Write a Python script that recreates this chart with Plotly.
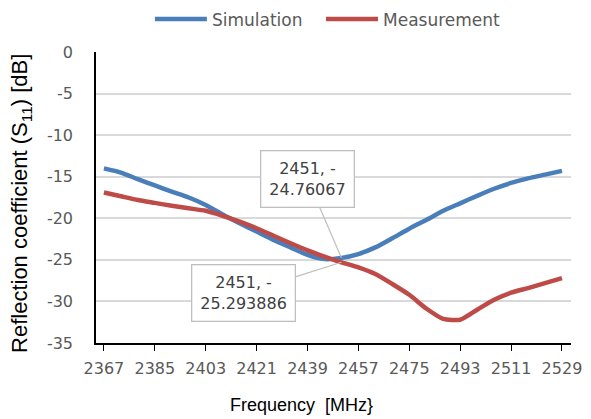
import plotly.graph_objects as go

freq = [2367, 2373, 2379, 2385, 2391, 2397, 2403, 2409, 2415, 2421, 2427, 2433, 2439, 2445,
        2451, 2457, 2463, 2469, 2475, 2481, 2487, 2493, 2499, 2505, 2511, 2517, 2523, 2529]
simulation = [-14.0, -14.5, -15.3, -16.05, -16.8, -17.5, -18.4, -19.55, -20.6, -21.6, -22.6, -23.5,
              -24.4, -24.9, -24.76067, -24.3, -23.5, -22.4, -21.25, -20.2, -19.1, -18.2, -17.3,
              -16.45, -15.75, -15.2, -14.75, -14.3]
measurement = [-16.9, -17.35, -17.8, -18.15, -18.5, -18.8, -19.1, -19.7, -20.4, -21.2, -22.1, -23.0,
               -23.85, -24.6, -25.293886, -25.9, -26.7, -27.9, -29.2, -30.85, -32.1, -32.2, -31.0,
               -29.8, -28.95, -28.4, -27.8, -27.2]
xticks = [2367, 2385, 2403, 2421, 2439, 2457, 2475, 2493, 2511, 2529]
yticks = [0, -5, -10, -15, -20, -25, -30, -35]
mark_freq = 2451
sim_mark = -24.76067
meas_mark = -25.293886

tick_font = dict(family="DejaVu Sans", size=16, color="#595959")
legend_font = dict(family="DejaVu Sans", size=17, color="#595959")

fig = go.Figure()
fig.add_trace(go.Scatter(x=freq, y=simulation, mode="lines", name="Simulation", legend="legend",
                         line=dict(color="#4a7ebb", width=4.5, shape="spline", smoothing=0.6)))
fig.add_trace(go.Scatter(x=freq, y=measurement, mode="lines", name="Measurement", legend="legend2",
                         line=dict(color="#be4b48", width=4.5, shape="spline", smoothing=0.6)))

fig.add_annotation(x=mark_freq, y=sim_mark, text="2451, -<br>24.76067", showarrow=True,
                   arrowhead=0, arrowcolor="#bfbfbf", arrowwidth=1.2, ax=-34, ay=-79,
                   bordercolor="#bfbfbf", borderwidth=1.3, borderpad=8, bgcolor="white",
                   font=dict(family="DejaVu Sans", size=16, color="#404040"))
fig.add_annotation(x=mark_freq, y=meas_mark, text="2451, -<br>25.293886", showarrow=True,
                   arrowhead=0, arrowcolor="#bfbfbf", arrowwidth=1.2, ax=-98, ay=31,
                   bordercolor="#bfbfbf", borderwidth=1.3, borderpad=8, bgcolor="white",
                   font=dict(family="DejaVu Sans", size=16, color="#404040"))

fig.add_annotation(text="Frequency  [MHz}", xref="paper", yref="paper", x=0.4316, y=-0.213,
                   xanchor="center", yanchor="middle", showarrow=False,
                   font=dict(family="Liberation Sans", size=18, color="black"))
fig.add_annotation(text="Reflection coefficient (S<sub>11</sub>) [dB]", xref="paper", yref="paper",
                   x=-0.158, y=0.481, xanchor="center", yanchor="middle", showarrow=False,
                   textangle=-90,
                   font=dict(family="Liberation Sans", size=22, color="black"))

fig.update_layout(
    width=591, height=419,
    margin=dict(l=96, r=20, t=52, b=76, autoexpand=False),
    paper_bgcolor="white", plot_bgcolor="white",
    showlegend=True,
    legend=dict(orientation="h", x=0.1135, xanchor="left", y=1.05, yanchor="bottom",
                font=legend_font, itemwidth=52),
    legend2=dict(orientation="h", x=0.4737, xanchor="left", y=1.05, yanchor="bottom",
                 font=legend_font, itemwidth=52),
    xaxis=dict(range=[2364.2, 2532.2], tickvals=xticks, ticktext=[str(v) for v in xticks],
               showgrid=False, zeroline=False, showline=True, linecolor="black", linewidth=1.5,
               ticks="outside", ticklen=6, tickcolor="black", tickwidth=1,
               tickfont=tick_font, ticklabelstandoff=4),
    yaxis=dict(range=[-35, 0], tickvals=yticks, ticktext=[str(v) for v in yticks],
               showgrid=True, gridcolor="#d9d9d9", gridwidth=1.5,
               zeroline=False, showline=True, linecolor="black", linewidth=1.5,
               ticks="", tickfont=tick_font, ticklabelstandoff=18),
)

fig.write_html("out.html", config={"displayModeBar": False},
               post_script="document.body.style.margin='0';document.body.style.overflow='hidden';")
